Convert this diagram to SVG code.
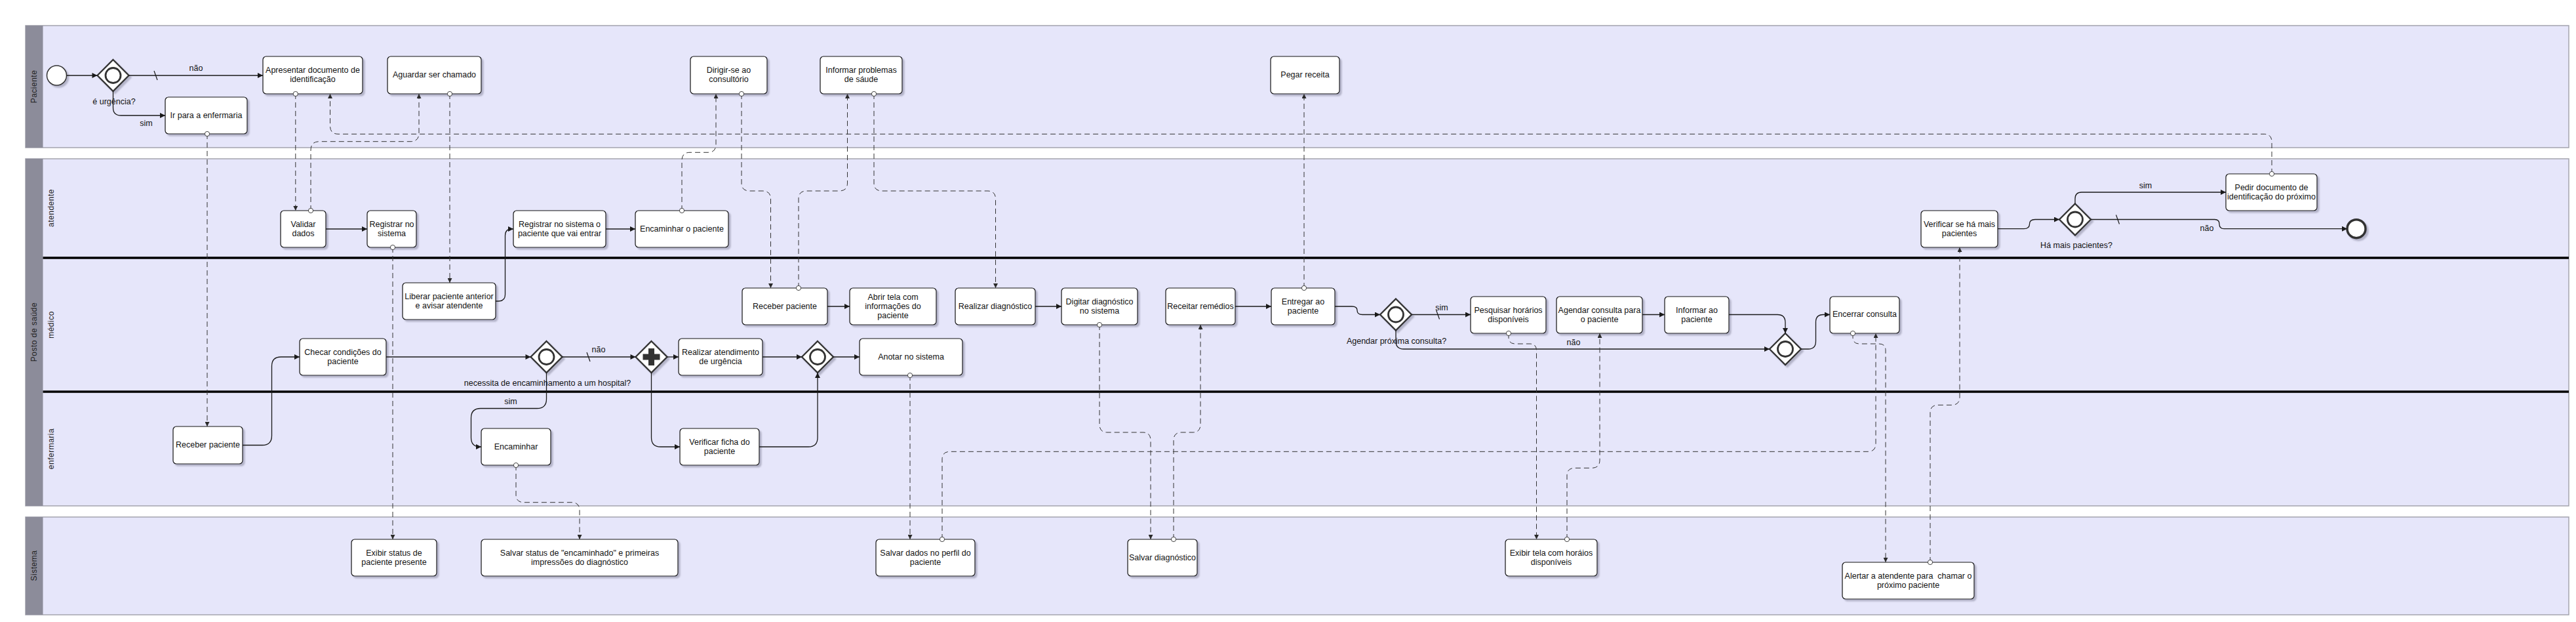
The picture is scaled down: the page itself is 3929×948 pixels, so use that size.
<svg xmlns="http://www.w3.org/2000/svg" width="3929" height="948" viewBox="0 0 3929 948">
<defs>
<style>
.pool{fill:#e6e6fa;stroke:#a4a4ae;stroke-width:1.5}
.hdr{fill:#8c8c9a}
.sep{stroke:#000;stroke-width:3.5}
.pl{font-family:"Liberation Sans",Arial,sans-serif;font-size:12px;fill:#222;text-anchor:middle;dominant-baseline:central;letter-spacing:0.5px}
.box{fill:#fff;stroke:#111;stroke-width:1.2;filter:url(#sh)}
.t{font-family:"Liberation Sans",Arial,sans-serif;font-size:12.5px;fill:#111;text-anchor:middle;dominant-baseline:central}
.lbl{font-family:"Liberation Sans",Arial,sans-serif;font-size:12.5px;fill:#111;text-anchor:middle;dominant-baseline:central}
.gw{fill:#fff;stroke:#333;stroke-width:2.3;filter:url(#sh)}
.gwc{fill:#fff;stroke:#333;stroke-width:2.8}
.seq{fill:none;stroke:#1a1a1a;stroke-width:1.3;marker-end:url(#ah)}
.slash{stroke:#1a1a1a;stroke-width:1.2}
.msg{fill:none;stroke:#333;stroke-width:1;stroke-dasharray:8 5;marker-start:url(#mc);marker-end:url(#ma)}
</style>
<filter id="sh" x="-10%" y="-10%" width="130%" height="140%">
<feDropShadow dx="3" dy="3" stdDeviation="0.8" flood-color="#6a6a82" flood-opacity="0.42"/>
</filter>
<marker id="ah" viewBox="0 0 10 10" refX="10" refY="5" markerWidth="10" markerHeight="8" markerUnits="userSpaceOnUse" orient="auto"><path d="M0,0 L10,5 L0,10 z" fill="#1a1a1a"/></marker>
<marker id="ma" viewBox="0 0 10 10" refX="10" refY="5" markerWidth="8" markerHeight="7" markerUnits="userSpaceOnUse" orient="auto"><path d="M0,0 L10,5 L0,10 z" fill="#2a2a2a"/></marker>
<marker id="mc" viewBox="0 0 10 10" refX="5" refY="5" markerWidth="9" markerHeight="9" markerUnits="userSpaceOnUse" orient="auto"><circle cx="5" cy="5" r="4" fill="#fff" stroke="#333" stroke-width="1"/></marker>
</defs>
<rect width="3929" height="948" fill="#fff"/>
<g id="pools">
<rect class="pool" x="39" y="39" width="3879" height="186"/>
<rect class="hdr" x="39" y="39" width="26.5" height="186"/>
<text class="pl" transform="translate(52,132) rotate(-90)">Paciente</text>
<rect class="pool" x="39" y="242" width="3879" height="529"/>
<rect class="hdr" x="39" y="242" width="26.5" height="529"/>
<text class="pl" transform="translate(52,506) rotate(-90)">Posto de saúde</text>
<line class="sep" x1="65.5" y1="393" x2="3918" y2="393"/>
<line class="sep" x1="65.5" y1="597" x2="3918" y2="597"/>
<text class="pl" transform="translate(78,317) rotate(-90)">atendente</text>
<text class="pl" transform="translate(78,495) rotate(-90)">médico</text>
<text class="pl" transform="translate(78,684) rotate(-90)">enfermaria</text>
<rect class="pool" x="39" y="788" width="3879" height="149"/>
<rect class="hdr" x="39" y="788" width="26.5" height="149"/>
<text class="pl" transform="translate(52,862) rotate(-90)">Sistema</text>
</g>
<g id="n-start"><circle cx="86.5" cy="115" r="15" fill="#fff" stroke="#333" stroke-width="1.5" filter="url(#sh)"/></g>
<g id="n-g-urgencia"><polygon class="gw" points="172.5,91 196.5,115 172.5,139 148.5,115"/><circle class="gwc" cx="172.5" cy="115" r="11.5"/><text class="lbl" x="174" y="155">é urgência?</text></g>
<g id="n-apresentar"><rect class="box" x="401" y="86" width="152" height="57" rx="5"/><text class="t"><tspan x="477" y="107">Apresentar documento de</tspan><tspan x="477" y="121">identificação</tspan></text></g>
<g id="n-aguardar"><rect class="box" x="591" y="86" width="143" height="57" rx="5"/><text class="t" x="662.5" y="114">Aguardar ser chamado</text></g>
<g id="n-irpara"><rect class="box" x="252" y="148" width="125" height="56" rx="5"/><text class="t" x="314.5" y="176">Ir para a enfermaria</text></g>
<g id="n-dirigir"><rect class="box" x="1053" y="86" width="117" height="57" rx="5"/><text class="t"><tspan x="1111.5" y="107">Dirigir-se ao</tspan><tspan x="1111.5" y="121">consultório</tspan></text></g>
<g id="n-informar-problemas"><rect class="box" x="1251" y="86" width="125" height="57" rx="5"/><text class="t"><tspan x="1313.5" y="107">Informar problemas</tspan><tspan x="1313.5" y="121">de sáude</tspan></text></g>
<g id="n-pegar"><rect class="box" x="1938" y="86" width="105" height="57" rx="5"/><text class="t" x="1990.5" y="114">Pegar receita</text></g>
<g id="n-validar"><rect class="box" x="428" y="321" width="69" height="56" rx="5"/><text class="t"><tspan x="462.5" y="342">Validar</tspan><tspan x="462.5" y="356">dados</tspan></text></g>
<g id="n-registrar"><rect class="box" x="560" y="321" width="75" height="56" rx="5"/><text class="t"><tspan x="597.5" y="342">Registrar no</tspan><tspan x="597.5" y="356">sistema</tspan></text></g>
<g id="n-registrar-entrar"><rect class="box" x="783" y="321" width="141" height="56" rx="5"/><text class="t"><tspan x="853.5" y="342">Registrar no sistema o</tspan><tspan x="853.5" y="356">paciente que vai entrar</tspan></text></g>
<g id="n-encaminhar-paciente"><rect class="box" x="969" y="321" width="142" height="56" rx="5"/><text class="t" x="1040" y="349">Encaminhar o paciente</text></g>
<g id="n-verificar-mais"><rect class="box" x="2930" y="321" width="117" height="56" rx="5"/><text class="t"><tspan x="2988.5" y="342">Verificar se há mais</tspan><tspan x="2988.5" y="356">pacientes</tspan></text></g>
<g id="n-g-mais"><polygon class="gw" points="3165,310.5 3189,334.5 3165,358.5 3141,334.5"/><circle class="gwc" cx="3165" cy="334.5" r="11.5"/><text class="lbl" x="3167" y="374">Há mais pacientes?</text></g>
<g id="n-pedir"><rect class="box" x="3395" y="265" width="139" height="56" rx="5"/><text class="t"><tspan x="3464.5" y="286">Pedir documento de</tspan><tspan x="3464.5" y="300">identificação do próximo</tspan></text></g>
<g id="n-end"><circle cx="3594" cy="348.7" r="14" fill="#fff" stroke="#333" stroke-width="3.5" filter="url(#sh)"/></g>
<g id="n-liberar"><rect class="box" x="614" y="431" width="142" height="56" rx="5"/><text class="t"><tspan x="685" y="452">Liberar paciente anterior</tspan><tspan x="685" y="466">e avisar atendente</tspan></text></g>
<g id="n-receber-med"><rect class="box" x="1132" y="439" width="130" height="56" rx="5"/><text class="t" x="1197" y="467">Receber paciente</text></g>
<g id="n-abrir"><rect class="box" x="1296" y="439" width="132" height="56" rx="5"/><text class="t"><tspan x="1362" y="453">Abrir tela com</tspan><tspan x="1362" y="467">informações do</tspan><tspan x="1362" y="481">paciente</tspan></text></g>
<g id="n-realizar-diag"><rect class="box" x="1457" y="439" width="122" height="56" rx="5"/><text class="t" x="1518" y="467">Realizar diagnóstico</text></g>
<g id="n-digitar"><rect class="box" x="1619" y="439" width="116" height="56" rx="5"/><text class="t"><tspan x="1677" y="460">Digitar diagnóstico</tspan><tspan x="1677" y="474">no sistema</tspan></text></g>
<g id="n-receitar"><rect class="box" x="1778" y="439" width="106" height="56" rx="5"/><text class="t" x="1831" y="467">Receitar remédios</text></g>
<g id="n-entregar"><rect class="box" x="1939" y="439" width="97" height="56" rx="5"/><text class="t"><tspan x="1987.5" y="460">Entregar ao</tspan><tspan x="1987.5" y="474">paciente</tspan></text></g>
<g id="n-g-agendar"><polygon class="gw" points="2129,455.5 2153,479.5 2129,503.5 2105,479.5"/><circle class="gwc" cx="2129" cy="479.5" r="11.5"/><text class="lbl" x="2130" y="520">Agendar próxima consulta?</text></g>
<g id="n-pesquisar"><rect class="box" x="2243" y="452" width="115" height="56" rx="5"/><text class="t"><tspan x="2300.5" y="473">Pesquisar horários</tspan><tspan x="2300.5" y="487">disponíveis</tspan></text></g>
<g id="n-agendar-consulta"><rect class="box" x="2374" y="452" width="131" height="56" rx="5"/><text class="t"><tspan x="2439.5" y="473">Agendar consulta para</tspan><tspan x="2439.5" y="487">o paciente</tspan></text></g>
<g id="n-informar-ao"><rect class="box" x="2539" y="452" width="98" height="56" rx="5"/><text class="t"><tspan x="2588" y="473">Informar ao</tspan><tspan x="2588" y="487">paciente</tspan></text></g>
<g id="n-g-merge2"><polygon class="gw" points="2723,508 2747,532 2723,556 2699,532"/><circle class="gwc" cx="2723" cy="532" r="11.5"/></g>
<g id="n-encerrar"><rect class="box" x="2791" y="452" width="106" height="56" rx="5"/><text class="t" x="2844" y="479">Encerrar consulta</text></g>
<g id="n-checar"><rect class="box" x="457" y="516" width="132" height="56" rx="5"/><text class="t"><tspan x="523" y="537">Checar condições do</tspan><tspan x="523" y="551">paciente</tspan></text></g>
<g id="n-g-necessita"><polygon class="gw" points="833.5,520 857.5,544 833.5,568 809.5,544"/><circle class="gwc" cx="833.5" cy="544" r="11.5"/><text class="lbl" x="835" y="584">necessita de encaminhamento a um hospital?</text></g>
<g id="n-g-paralelo"><polygon class="gw" points="993.5,520 1017.5,544 993.5,568 969.5,544"/><path d="M980.5,539.5 H989 V531 H998 V539.5 H1006.5 V548.5 H998 V557 H989 V548.5 H980.5 Z" fill="#333"/></g>
<g id="n-realizar-atend"><rect class="box" x="1035" y="516" width="128" height="56" rx="5"/><text class="t"><tspan x="1099" y="537">Realizar atendimento</tspan><tspan x="1099" y="551">de urgência</tspan></text></g>
<g id="n-g-merge1"><polygon class="gw" points="1247,520 1271,544 1247,568 1223,544"/><circle class="gwc" cx="1247" cy="544" r="11.5"/></g>
<g id="n-anotar"><rect class="box" x="1311" y="516" width="157" height="56" rx="5"/><text class="t" x="1389.5" y="544">Anotar no sistema</text></g>
<g id="n-receber-enf"><rect class="box" x="264" y="650" width="106" height="57" rx="5"/><text class="t" x="317" y="678">Receber paciente</text></g>
<g id="n-encaminhar"><rect class="box" x="734" y="653" width="106" height="56" rx="5"/><text class="t" x="787" y="681">Encaminhar</text></g>
<g id="n-verificar-ficha"><rect class="box" x="1037" y="653" width="121" height="56" rx="5"/><text class="t"><tspan x="1097.5" y="674">Verificar ficha do</tspan><tspan x="1097.5" y="688">paciente</tspan></text></g>
<g id="n-exibir-status"><rect class="box" x="536" y="822" width="130" height="56" rx="5"/><text class="t"><tspan x="601" y="843">Exibir status de</tspan><tspan x="601" y="857">paciente presente</tspan></text></g>
<g id="n-salvar-status"><rect class="box" x="734" y="822" width="300" height="56" rx="5"/><text class="t"><tspan x="884" y="843">Salvar status de "encaminhado" e primeiras</tspan><tspan x="884" y="857">impressões do diagnóstico</tspan></text></g>
<g id="n-salvar-dados"><rect class="box" x="1336" y="822" width="151" height="56" rx="5"/><text class="t"><tspan x="1411.5" y="843">Salvar dados no perfil do</tspan><tspan x="1411.5" y="857">paciente</tspan></text></g>
<g id="n-salvar-diag"><rect class="box" x="1720" y="822" width="106" height="56" rx="5"/><text class="t" x="1773" y="850">Salvar diagnóstico</text></g>
<g id="n-exibir-tela"><rect class="box" x="2296" y="822" width="140" height="56" rx="5"/><text class="t"><tspan x="2366" y="843">Exibir tela com horáios</tspan><tspan x="2366" y="857">disponíveis</tspan></text></g>
<g id="n-alertar"><rect class="box" x="2810" y="857" width="201" height="56" rx="5"/><text class="t" style="white-space:pre"><tspan x="2910.5" y="878">Alertar a atendente para  chamar o</tspan><tspan x="2910.5" y="892">próximo paciente</tspan></text></g>
<g id="connectors">
<path class="seq" d="M101.5,115 H148.5"/>
<path class="seq" d="M196.5,115 H401"/>
<line class="slash" x1="235" y1="108" x2="240" y2="122"/>
<text class="lbl" x="299" y="104">não</text>
<path class="seq" d="M172.5,139 V164 Q172.5,176 184.5,176 H252"/>
<text class="lbl" x="223" y="188">sim</text>
<path class="seq" d="M497,349 H560"/>
<path class="seq" d="M756,459 H760 Q770.5,459 770.5,449 V359 Q770.5,349 780.5,349 H783"/>
<path class="seq" d="M924,349 H969"/>
<path class="seq" d="M370,678.5 H400 Q414.5,678.5 414.5,664 V558 Q414.5,544 428.5,544 H457"/>
<path class="seq" d="M589,544 H809.5"/>
<path class="seq" d="M857.5,544 H969.5"/>
<line class="slash" x1="895" y1="537" x2="900" y2="551"/>
<text class="lbl" x="913" y="533">não</text>
<path class="seq" d="M833.5,568 V608 Q833.5,622.5 819,622.5 H733 Q718.5,622.5 718.5,637 V667 Q718.5,681 732.5,681 H734"/>
<text class="lbl" x="779" y="612">sim</text>
<path class="seq" d="M1017.5,544 H1035"/>
<path class="seq" d="M993.5,568 V667 Q993.5,681 1007.5,681 H1037"/>
<path class="seq" d="M1163,544 H1223"/>
<path class="seq" d="M1158,681 H1233 Q1247,681 1247,667 V568"/>
<path class="seq" d="M1271,544 H1311"/>
<path class="seq" d="M1262,467 H1296"/>
<path class="seq" d="M1579,467 H1619"/>
<path class="seq" d="M1884,467 H1939"/>
<path class="seq" d="M2036,467 H2062 Q2070,467 2070,473 Q2070,479.5 2078,479.5 H2105"/>
<path class="seq" d="M2153,479.5 H2243"/>
<line class="slash" x1="2190.5" y1="472.5" x2="2195.5" y2="486.5"/>
<text class="lbl" x="2199" y="469">sim</text>
<path class="seq" d="M2129,503.5 V520 Q2129,532 2141,532 H2699"/>
<text class="lbl" x="2400" y="521.5">não</text>
<path class="seq" d="M2505,479.5 H2539"/>
<path class="seq" d="M2637,479.5 H2711 Q2723,479.5 2723,491.5 V508"/>
<path class="seq" d="M2747,532 H2758 Q2769.5,532 2769.5,520 V491 Q2769.5,479.5 2781,479.5 H2791"/>
<path class="seq" d="M3047,348.7 H3087 Q3095.5,348.7 3095.5,341.5 Q3095.5,334.5 3104,334.5 H3141"/>
<path class="seq" d="M3165,310.5 V303 Q3165,293 3175,293 H3395"/>
<text class="lbl" x="3272.5" y="283">sim</text>
<path class="seq" d="M3189,334.5 H3378 Q3385,334.5 3385,341.5 Q3385,348.7 3392,348.7 H3580"/>
<line class="slash" x1="3227.5" y1="327.5" x2="3232.5" y2="341.5"/>
<text class="lbl" x="3366" y="348">não</text>
<path class="msg" d="M450.8,143 V321"/>
<path class="msg" d="M474,321 V229 Q474,215.7 487,215.7 H626 Q639,215.7 639,203 V143"/>
<path class="msg" d="M686,143 V431"/>
<path class="msg" d="M316,204 V650"/>
<path class="msg" d="M599,377 V822"/>
<path class="msg" d="M1040,321 V245 Q1040,232.3 1052,232.3 H1080 Q1092,232.3 1092,220 V143"/>
<path class="msg" d="M1131,143 V279 Q1131,291 1143,291 H1163 Q1175.5,291 1175.5,303 V439"/>
<path class="msg" d="M1218,439 V303 Q1218,291 1230,291 H1280 Q1292.5,291 1292.5,279 V143"/>
<path class="msg" d="M1333,143 V279 Q1333,291 1345,291 H1506 Q1518.5,291 1518.5,303 V439"/>
<path class="msg" d="M1989,439 V143"/>
<path class="msg" d="M3465,265 V216 Q3465,204.3 3453,204.3 H516 Q503.5,204.3 503.5,192 V143"/>
<path class="msg" d="M1388,572 V822"/>
<path class="msg" d="M1437,822 V700 Q1437,688.3 1449,688.3 H2849 Q2861,688.3 2861,676 V508"/>
<path class="msg" d="M1677,495 V647 Q1677,659 1689,659 H1743 Q1755,659 1755,671 V822"/>
<path class="msg" d="M1790,822 V671 Q1790,659 1802,659 H1819 Q1831,659 1831,647 V495"/>
<path class="msg" d="M2301,508 V514 Q2301,524 2311,524 H2333 Q2343.5,524 2343.5,534 V822"/>
<path class="msg" d="M2390,822 V725 Q2390,713.3 2402,713.3 H2428 Q2440,713.3 2440,701 V508"/>
<path class="msg" d="M2826,508 V514 Q2826,524 2836,524 H2866 Q2876,524 2876,534 V857"/>
<path class="msg" d="M2944,857 V629 Q2944,617.3 2956,617.3 H2977 Q2989,617.3 2989,605 V377"/>
<path class="msg" d="M787,709 V754 Q787,765.7 799,765.7 H872 Q884,765.7 884,778 V822"/>
</g>
</svg>
